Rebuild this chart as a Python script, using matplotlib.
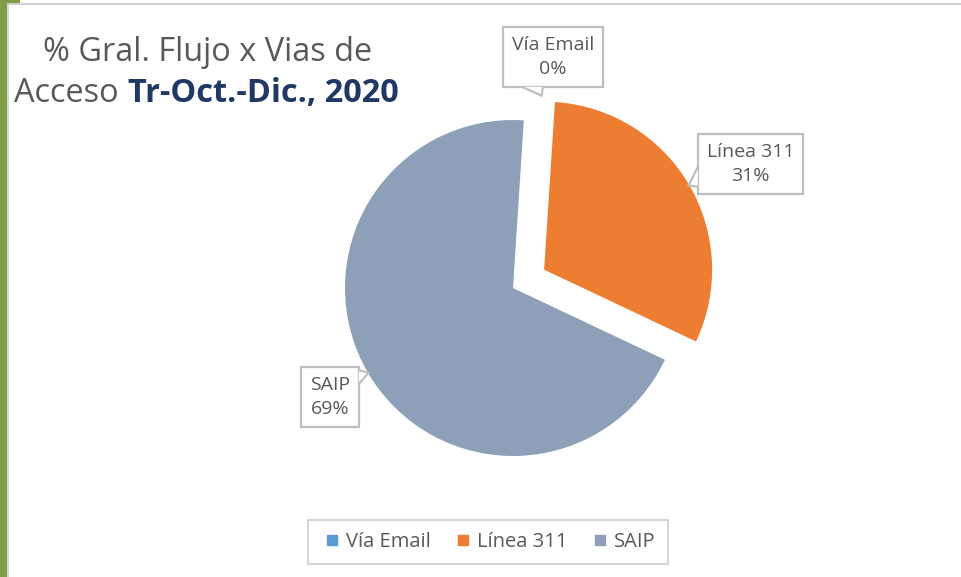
import matplotlib
matplotlib.use("Agg")
import matplotlib.pyplot as plt
from matplotlib.patches import Rectangle, Polygon
import numpy as np

# data
categories = ["Vía Email", "Línea 311", "SAIP"]
shares = [0, 31, 69]
colors = ["#5B9BD5", "#ED7D31", "#8E9FB8"]
explode = [0, 0.215, 0]

title_line1 = "% Gral. Flujo x Vias de"
title_line2a = "Acceso "
title_line2b = "Tr-Oct.-Dic., 2020"

FONT = "Open Sans"
GRAY = "#595959"
EDGE = "#BFBFBF"

W, H, DPI = 961, 577, 100
fig = plt.figure(figsize=(W / DPI, H / DPI), dpi=DPI)
fig.patch.set_facecolor("white")

# pie center (px from top-left) and radius in px
cx, cy, rpx = 513, 288, 168
ax = fig.add_axes([0, 0, 1, 1])

wedges, _ = ax.pie(shares, colors=colors, explode=explode, startangle=86.3,
                   counterclock=False, radius=1.0, center=(0, 0),
                   wedgeprops=dict(linewidth=0))
# pie() resets the limits, so set them afterwards
ax.set_xlim(-cx / rpx, (W - cx) / rpx)
ax.set_ylim(-(H - cy) / rpx, cy / rpx)
ax.set_aspect("equal")
ax.axis("off")

# data labels (callouts): box centre, tail side, tail base (fractions along edge), tip
label_pos = {"Vía Email": ((0.238, 1.375), "bottom", (0.19, 0.40), (0.17, 1.145)),
             "Línea 311": ((1.413, 0.738), "left", (0.55, 0.88), (1.045, 0.61)),
             "SAIP": ((-1.089, -0.649), "right", (0.05, 0.28), (-0.86, -0.505))}
anns = []
for cat, val in zip(categories, shares):
    (tx, ty), side, base, tip = label_pos[cat]
    a = ax.annotate(f"{cat}\n{val}%", xy=(tx, ty), ha="center", va="center",
                    fontsize=14, color=GRAY, family=FONT, linespacing=1.45, zorder=5,
                    bbox=dict(boxstyle="square,pad=0.45", fc="white", ec=EDGE, lw=1.6))
    anns.append((a, side, base, tip))

fig.canvas.draw()
inv = ax.transData.inverted()
for a, side, base, tip in anns:
    bb = a.get_bbox_patch().get_window_extent()
    x0, y0, x1, y1 = bb.x0, bb.y0, bb.x1, bb.y1
    if side == "bottom":
        p1 = (x0 + base[0] * (x1 - x0), y0)
        p2 = (x0 + base[1] * (x1 - x0), y0)
    elif side == "left":
        p1 = (x0, y1 - base[0] * (y1 - y0))
        p2 = (x0, y1 - base[1] * (y1 - y0))
    else:
        p1 = (x1, y1 - base[0] * (y1 - y0))
        p2 = (x1, y1 - base[1] * (y1 - y0))
    p1 = inv.transform(p1)
    p2 = inv.transform(p2)
    pts = np.array([p1, tip, p2])
    ax.add_patch(Polygon(pts, closed=True, fc="white", ec="none", zorder=6))
    ax.plot(pts[:, 0], pts[:, 1], color=EDGE, lw=1.6, zorder=7,
            solid_joinstyle="miter", solid_capstyle="butt")

# title
fig.text(208 / W, 1 - 61 / H, title_line1, ha="center", va="baseline",
         fontsize=23.4, color=GRAY, family=FONT)
fig.text(119 / W, 1 - 102 / H, title_line2a.strip(), ha="right", va="baseline",
         fontsize=23.4, color=GRAY, family=FONT)
fig.text(128 / W, 1 - 102 / H, title_line2b, ha="left", va="baseline",
         fontsize=23.4, color="#1F3864", family=FONT, weight="bold")

# legend
handles = [plt.Line2D([], [], marker="s", ls="", ms=6.5, mfc=c, mec=c) for c in colors]
leg = fig.legend(handles, categories, loc="center", bbox_to_anchor=(488 / W, 1 - 542 / H),
                 ncol=3, frameon=True, fancybox=False, handletextpad=0.1,
                 handlelength=1.2, columnspacing=1.0, borderpad=0.6,
                 borderaxespad=0.0, prop=dict(family=FONT, size=14.5))
leg.get_frame().set_edgecolor(EDGE)
leg.get_frame().set_linewidth(1.2)
for t in leg.get_texts():
    t.set_color(GRAY)

# window frame bits: green stripe at left, gray borders
fig.patches.append(Rectangle((0, 0), 7 / W, 1, transform=fig.transFigure,
                             fc="#7F9E46", ec="none"))
fig.patches.append(Rectangle((7 / W, 0), 2 / W, 1 - 5 / H, transform=fig.transFigure,
                             fc="#D9D9D9", ec="none"))
fig.patches.append(Rectangle((7 / W, 1 - 5 / H), 1, 2 / H, transform=fig.transFigure,
                             fc="#D0D0D0", ec="none"))
fig.patches.append(Rectangle((0, 1 - 3 / H), 20 / W, 3 / H, transform=fig.transFigure,
                             fc="#7F9E46", ec="none"))

fig.savefig("out.png", dpi=DPI, facecolor="white")
